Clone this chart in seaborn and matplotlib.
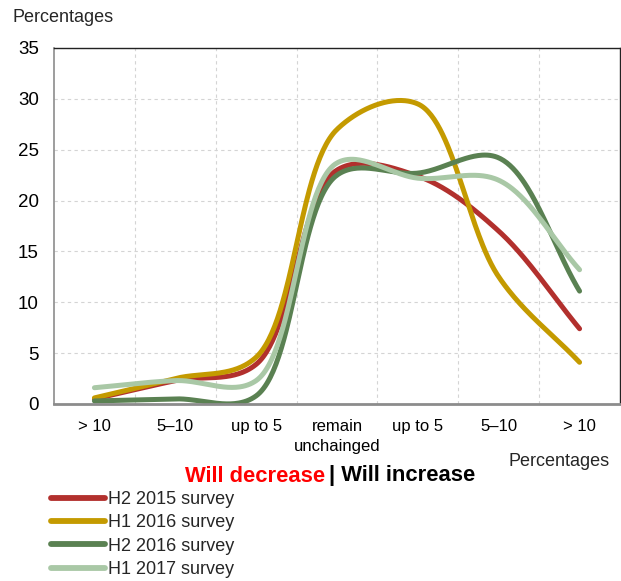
import numpy as np
import pandas as pd
import matplotlib
matplotlib.use("Agg")
import matplotlib.pyplot as plt
import seaborn as sns

# Category labels (left half: will decrease, right half: will increase)
categories = ["> 10", "5–10", "up to 5", "remain\nunchainged", "up to 5", "5–10", "> 10"]

# Share of respondents, percentages
h2_2015 = [0.5, 2.3, 3.9, 23.0, 22.4, 17.0, 7.4]
h1_2016 = [0.6, 2.5, 4.6, 27.0, 29.5, 12.5, 4.1]
h2_2016 = [0.3, 0.5, 0.8, 22.5, 22.7, 24.2, 11.1]
h1_2017 = [1.6, 2.3, 2.3, 23.7, 22.2, 22.0, 13.2]

series_names = ["H2 2015 survey", "H1 2016 survey", "H2 2016 survey", "H1 2017 survey"]
series_values = [h2_2015, h1_2016, h2_2016, h1_2017]
colors = ["#B2302D", "#C49A00", "#5A8152", "#A9C8A6"]

y_ticks = [0, 5, 10, 15, 20, 25, 30, 35]

W, H, DPI = 6.21, 5.81, 100
AX_L, AX_R, AX_B, AX_T = 54 / 621, 620 / 621, 1 - 404 / 581, 1 - 48 / 581


def smooth_curve(xs, ys, sx, sy, n=60, alpha=0.5):
    """Centripetal Catmull-Rom curve through the points, built in screen units."""
    P = np.column_stack([np.asarray(xs, float) * sx, np.asarray(ys, float) * sy])
    k = len(P)
    # pad ends by reflecting neighbours so the end tangents follow the first/last chord
    ext = np.vstack([2 * P[0] - P[1], P, 2 * P[-1] - P[-2]])
    out = []
    for i in range(k - 1):
        p0, p1, p2, p3 = ext[i], ext[i + 1], ext[i + 2], ext[i + 3]
        t01 = np.linalg.norm(p1 - p0) ** alpha
        t12 = np.linalg.norm(p2 - p1) ** alpha
        t23 = np.linalg.norm(p3 - p2) ** alpha
        m1 = (p1 - p0) / t01 - (p2 - p0) / (t01 + t12) + (p2 - p1) / t12
        m2 = (p2 - p1) / t12 - (p3 - p1) / (t12 + t23) + (p3 - p2) / t23
        c1 = p1 + m1 * t12 / 3
        c2 = p2 - m2 * t12 / 3
        t = np.linspace(0, 1, n)[:, None]
        seg = ((1 - t) ** 3) * p1 + 3 * ((1 - t) ** 2) * t * c1 + 3 * (1 - t) * t ** 2 * c2 + t ** 3 * p2
        out.append(seg if i == 0 else seg[1:])
    pts = np.vstack(out)
    return pts[:, 0] / sx, pts[:, 1] / sy


# pixel size of one category step and one percentage point
sx = (AX_R - AX_L) * W * DPI / 7
sy = (AX_T - AX_B) * H * DPI / 35

frames = []
for name, vals in zip(series_names, series_values):
    cx, cy = smooth_curve(range(len(categories)), vals, sx, sy)
    frames.append(pd.DataFrame({"x": cx, "y": cy, "series": name}))
df = pd.concat(frames, ignore_index=True)

sns.set_theme(style="white")
plt.rcParams["font.family"] = ["Liberation Sans", "DejaVu Sans"]

fig = plt.figure(figsize=(W, H), dpi=DPI)
ax = fig.add_axes([AX_L, AX_B, AX_R - AX_L, AX_T - AX_B])

sns.lineplot(data=df, x="x", y="y", hue="series", hue_order=series_names,
             palette=dict(zip(series_names, colors)), sort=False, estimator=None,
             units="series", linewidth=3.6, solid_capstyle="round", ax=ax, legend=True)

ax.set_xlim(-0.5, 6.5)
ax.set_ylim(0, 35)
ax.set_xticks(range(len(categories)))
ax.set_xticklabels(categories, fontsize=12, linespacing=1.4)
ax.set_xticks(np.arange(0.5, 6, 1), minor=True)
ax.set_yticks(y_ticks)
ax.set_yticklabels([str(v) for v in y_ticks], fontsize=13.5)
ax.tick_params(axis="both", which="both", length=0, colors="black")
ax.tick_params(axis="x", pad=11)
ax.tick_params(axis="y", pad=11)
ax.set_xlabel("")
ax.set_ylabel("")

ax.grid(False)
ax.grid(which="minor", axis="x", color="#D4D4D4", linestyle=(0, (3, 3)), linewidth=0.8)
ax.grid(which="major", axis="y", color="#D4D4D4", linestyle=(0, (3, 3)), linewidth=0.8)
ax.set_axisbelow(True)

for side in ["top", "right"]:
    ax.spines[side].set_color("#222222")
    ax.spines[side].set_linewidth(1.0)
ax.spines["left"].set_color("#8C8C8C")
ax.spines["left"].set_linewidth(1.2)
ax.spines["bottom"].set_color("#8C8C8C")
ax.spines["bottom"].set_linewidth(2.0)

handles, labels = ax.get_legend_handles_labels()
ax.get_legend().remove()
for h in handles:
    h.set_linewidth(4.2)
    h.set_solid_capstyle("round")
fig.legend(handles, labels, loc="upper left", bbox_to_anchor=(51 / 621, 1 - 491 / 581),
           frameon=False, fontsize=13, handlelength=3.0, handletextpad=0.15,
           labelspacing=0.35, borderpad=0, borderaxespad=0)

fig.text(12 / 621, 1 - 18 / 581, "Percentages", fontsize=13, va="center", ha="left")
fig.text(610 / 621, 1 - 462 / 581, "Percentages", fontsize=13, va="center", ha="right")
fig.text(325 / 621, 1 - 476 / 581, "Will decrease", fontsize=15.8, fontweight="bold",
         color="#FF0000", va="center", ha="right")
fig.text(329 / 621, 1 - 476 / 581, "| Will increase", fontsize=15.8, fontweight="bold",
         color="black", va="center", ha="left")

fig.savefig("out.png", dpi=DPI)
